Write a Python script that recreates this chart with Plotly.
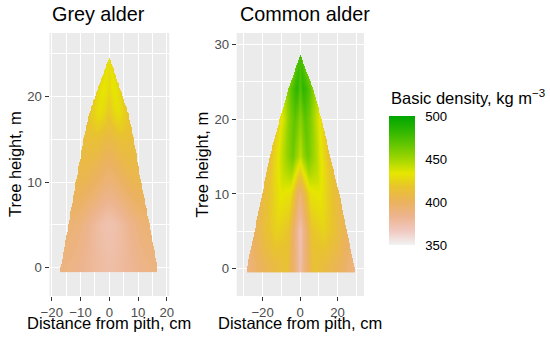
import numpy as np
import plotly.graph_objects as go

# ---------------- data ----------------
# relative radial position across the stem (-1 = left bark, 0 = pith, 1 = right bark)
rel_pos = [-1, -0.75, -0.5, -0.25, -0.1, 0, 0.1, 0.25, 0.5, 0.75, 1]

# Grey alder: sampling heights (m), stem radius left/right (cm), basic density (kg m-3)
grey_heights = [0, 5, 10, 15, 18, 21, 24.7]
grey_radius_left = [16.9, 14.2, 11.6, 9.0, 7.0, 3.9, 0.0]
grey_radius_right = [16.7, 14.0, 11.0, 8.5, 6.6, 3.6, 0.0]
grey_density = [
    [388, 386, 382, 378, 376, 375, 376, 378, 382, 386, 388],
    [393, 390, 383, 376, 373, 372, 373, 376, 383, 390, 393],
    [405, 404, 400, 395, 392, 391, 392, 395, 400, 404, 405],
    [411, 413, 414, 411, 409, 408, 409, 411, 414, 413, 411],
    [417, 424, 430, 426, 421, 419, 421, 426, 430, 424, 417],
    [424, 430, 434, 432, 428, 426, 428, 432, 434, 430, 424],
    [428, 428, 428, 428, 428, 428, 428, 428, 428, 428, 428],
]

# Common alder
common_heights = [0, 5, 10, 15, 20, 24, 28.6]
common_radius_left = [28.4, 24.3, 20.2, 16.2, 10.8, 6.3, 0.0]
common_radius_right = [29.0, 24.8, 20.8, 15.9, 11.3, 6.9, 0.0]
common_density = [
    [388, 400, 408, 415, 392, 374, 392, 415, 408, 400, 388],
    [400, 414, 424, 417, 388, 372, 388, 417, 424, 414, 400],
    [408, 420, 434, 430, 406, 392, 406, 430, 434, 420, 408],
    [412, 430, 448, 463, 452, 442, 452, 463, 448, 430, 412],
    [428, 442, 458, 469, 462, 455, 462, 469, 458, 442, 428],
    [456, 468, 478, 484, 478, 470, 478, 484, 478, 468, 456],
    [474, 474, 474, 474, 474, 474, 474, 474, 474, 474, 474],
]

density_ticks = [350, 400, 450, 500]
# reversed R terrain.colors(10)
palette = ["#F2F2F2", "#F0C9C0", "#EDB48E", "#EBB25E", "#E8C32E",
           "#E6E600", "#A0D600", "#63C600", "#2DB600", "#00A600"]


def build_grid(heights, rad_l, rad_r, dens, dx=0.25, dy=0.1, bottom=-0.5):
    H = np.array(heights, float)
    RL = np.array(rad_l, float)
    RR = np.array(rad_r, float)
    D = np.array(dens, float)
    rel = np.array(rel_pos, float)
    xs = np.arange(-RL.max() - 0.5, RR.max() + 0.5, dx)
    ys = np.arange(bottom, H.max() + dy, dy)
    Z = np.full((len(ys), len(xs)), np.nan)
    for j, y in enumerate(ys):
        if y > H[-1]:
            continue
        yy = max(y, 0.0)
        rl = np.interp(yy, H, RL)
        rr = np.interp(yy, H, RR)
        if rl < 1e-6 or rr < 1e-6:
            continue
        r = np.where(xs < 0, xs / rl, xs / rr)
        inside = np.abs(r) <= 1
        i = min(np.searchsorted(H, yy, side="right") - 1, len(H) - 2)
        w = (yy - H[i]) / (H[i + 1] - H[i])
        v = np.interp(r, rel, D[i]) * (1 - w) + np.interp(r, rel, D[i + 1]) * w
        Z[j, inside] = v[inside]
    return xs, ys, Z


gx, gy, gz = build_grid(grey_heights, grey_radius_left, grey_radius_right, grey_density)
cx, cy, cz = build_grid(common_heights, common_radius_left, common_radius_right, common_density)

FONT = "Liberation Sans, Arial, sans-serif"
W, Hh = 550, 345

fig = go.Figure()
fig.add_trace(go.Heatmap(x=gx, y=gy, z=gz, coloraxis="coloraxis", zsmooth=False,
                         hoverinfo="skip", xaxis="x", yaxis="y"))
fig.add_trace(go.Heatmap(x=cx, y=cy, z=cz, coloraxis="coloraxis", zsmooth=False,
                         hoverinfo="skip", xaxis="x2", yaxis="y2"))

ydom = [1 - 296 / Hh, 1 - 33 / Hh]
axis_common = dict(
    showgrid=True, gridcolor="white", gridwidth=1.2, zeroline=False, showline=False,
    ticks="outside", ticklen=4, tickwidth=1.1, tickcolor="#333333", automargin=False,
    tickfont=dict(family=FONT, size=13.2, color="#4D4D4D"),
)
minor = lambda d: dict(dtick=d, showgrid=True, gridcolor="white", gridwidth=0.6, ticks="")

fig.update_layout(
    template="none",
    width=W, height=Hh, autosize=False,
    margin=dict(l=0, r=0, t=0, b=0, pad=0, autoexpand=False),
    paper_bgcolor="white", plot_bgcolor="#EBEBEB",
    font=dict(family=FONT),
    xaxis=dict(domain=[49.5 / W, 169.3 / W], range=[-20.8, 20.85], dtick=10,
               minor=minor(5), anchor="y", **axis_common),
    yaxis=dict(domain=ydom, range=[-3.31, 27.45], dtick=10, minor=minor(5),
               anchor="x", **axis_common),
    xaxis2=dict(domain=[236.7 / W, 364 / W], range=[-33.8, 34.1], dtick=20,
                minor=minor(10), anchor="y2", **axis_common),
    yaxis2=dict(domain=ydom, range=[-3.65, 31.51], dtick=10, minor=minor(5),
                anchor="x2", **axis_common),
    coloraxis=dict(
        cmin=350, cmax=500,
        colorscale=[[i / (len(palette) - 1), c] for i, c in enumerate(palette)],
        colorbar=dict(
            x=389 / W, xanchor="left", y=1 - 180.5 / Hh, yanchor="middle",
            lenmode="pixels", len=129, thicknessmode="pixels", thickness=26,
            xpad=0, ypad=0, outlinewidth=0,
            tickvals=density_ticks, ticks="outside", ticklen=8,
            tickcolor="rgba(0,0,0,0)", tickwidth=1,
            tickfont=dict(family=FONT, size=13.2, color="black"),
        ),
    ),
)

ann = []
ann.append(dict(text="Grey alder", x=50 / W, y=1 - 14 / Hh, xanchor="left", yanchor="middle",
                font=dict(size=19.8, color="black")))
ann.append(dict(text="Common alder", x=237.5 / W, y=1 - 14 / Hh, xanchor="left", yanchor="middle",
                font=dict(size=19.8, color="black")))
for cxp in [109.4, 300.35]:
    ann.append(dict(text="Distance from pith, cm", x=cxp / W, y=1 - 323 / Hh,
                    xanchor="center", yanchor="middle", font=dict(size=16.5, color="black")))
for cyp in [14.5, 201]:
    ann.append(dict(text="Tree height, m", x=cyp / W, y=1 - 164.5 / Hh, textangle=-90,
                    xanchor="center", yanchor="middle", font=dict(size=16.5, color="black")))
ann.append(dict(text="Basic density, kg m<sup>−3</sup>", x=389 / W, y=1 - 97 / Hh,
                xanchor="left", yanchor="middle", font=dict(size=16.5, color="black")))
for a in ann:
    a.update(xref="paper", yref="paper", showarrow=False)
    a["font"]["family"] = FONT
fig.update_layout(annotations=ann)

fig.write_html("out.html", config={"displayModeBar": False},
               post_script="document.body.style.margin='0';document.body.style.padding='0';")
